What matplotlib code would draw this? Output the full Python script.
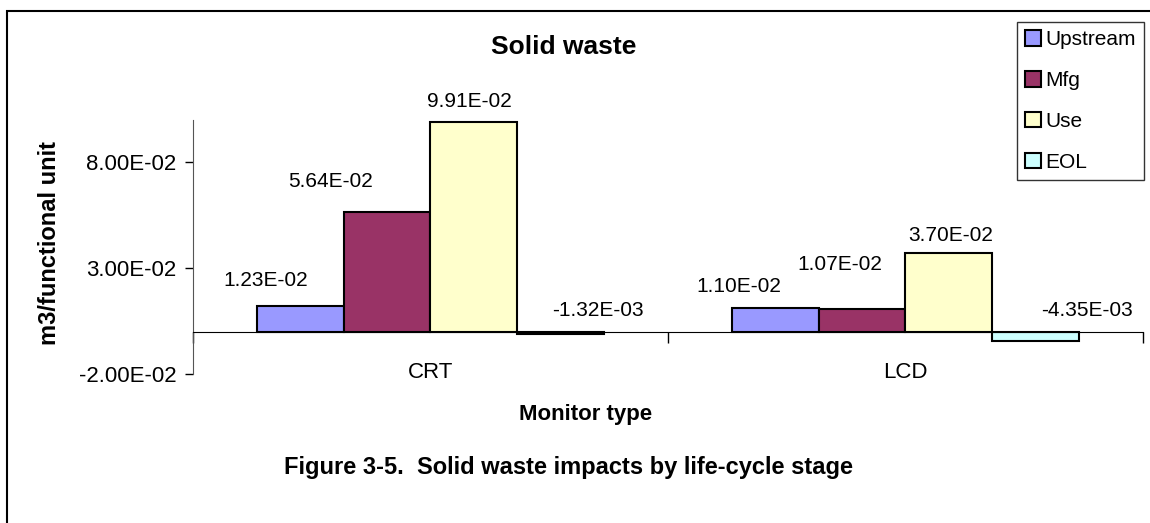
import numpy as np
import matplotlib.pyplot as plt
from matplotlib.patches import Rectangle

plt.rcParams['font.family'] = ['Liberation Sans', 'DejaVu Sans']

# data
monitors = ['CRT', 'LCD']
stages = ['Upstream', 'Mfg', 'Use', 'EOL']
upstream = [1.23e-2, 1.10e-2]
mfg = [5.64e-2, 1.07e-2]
use = [9.91e-2, 3.70e-2]
eol = [-1.32e-3, -4.35e-3]
colors = ['#9999FF', '#993366', '#FFFFCC', '#CCFFFF']

# label nudges (points) relative to bar top, like the hand-moved Excel labels
label_dx = [[-25, -41, -3, 27], [-26, -16, 1, 37]]
label_dy = [[18, 22, 15, 15], [16, 32, 13, 15]]

fig = plt.figure(figsize=(11.5, 5.23), dpi=100)
ax = fig.add_axes([0.1678, 0.2849, 0.8261, 0.4857])

series = [upstream, mfg, use, eol]
x = np.arange(len(monitors))
w = 0.183
for i, vals in enumerate(series):
    pos = x + (i - 1.5) * w
    bars = ax.bar(pos, vals, w, color=colors[i], edgecolor='black',
                  linewidth=1.5, label=stages[i])
    for j, b in enumerate(bars):
        v = vals[j]
        ax.annotate('%.2E' % v, (b.get_x() + w / 2, max(v, 0)),
                    xytext=(label_dx[j][i], label_dy[j][i]),
                    textcoords='offset points', ha='center', va='center',
                    fontsize=15)

ax.set_xlim(-0.5, 1.5)
ax.set_ylim(-0.02, 0.1)
ax.set_yticks([-0.02, 0.03, 0.08])
ax.set_yticklabels(['%.2E' % t for t in [-0.02, 0.03, 0.08]], fontsize=16)
ax.tick_params(axis='y', direction='out', length=6, width=1, pad=6)

ax.spines['top'].set_visible(False)
ax.spines['right'].set_visible(False)
ax.spines['bottom'].set_position(('data', 0))
ax.spines['left'].set_color('#555555')
ax.set_xticks([-0.5, 0.5, 1.5])
ax.set_xticklabels([])
ax.tick_params(axis='x', which='major', direction='out', length=8, width=1)
ax.set_xticks(x, monitors, minor=True)
ax.tick_params(axis='x', which='minor', length=0, pad=22, labelsize=16)

ax.set_ylabel('m3/functional unit', fontsize=17, fontweight='bold')
ax.yaxis.set_label_coords(-0.139, 0.516)

fig.text(0.49, 0.91, 'Solid waste', fontsize=19, fontweight='bold',
         ha='center', va='center')
fig.text(0.509, 0.207, 'Monitor type', fontsize=16, fontweight='bold',
         ha='center', va='center')
fig.text(0.494, 0.107, 'Figure 3-5.  Solid waste impacts by life-cycle stage',
         fontsize=17, fontweight='bold', ha='center', va='center')

leg = fig.legend(loc='upper left', bbox_to_anchor=(0.8843, 0.958),
                 fontsize=15, frameon=True, fancybox=False, edgecolor='black',
                 handlelength=0.75, handleheight=0.75, handletextpad=0.2,
                 labelspacing=1.05, borderpad=0.4, borderaxespad=0)
leg.get_frame().set_linewidth(1)

# chart border
fig.patches.append(Rectangle((7 / 1150, -0.01), 1.2, 1 - 11 / 523 + 0.01,
                             transform=fig.transFigure, fill=False,
                             edgecolor='black', linewidth=1.5))

fig.savefig('out.png', dpi=100)
